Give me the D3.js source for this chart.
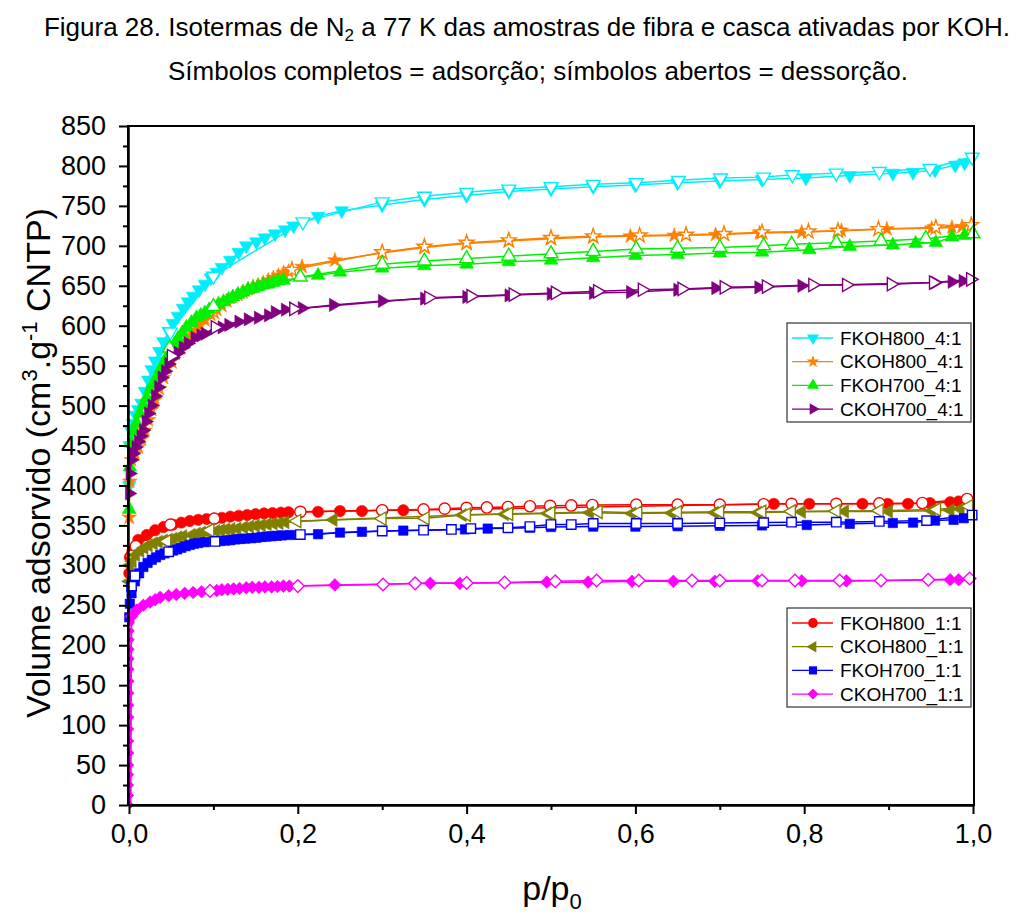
<html>
<head>
  <script src="https://d3js.org/d3.v7.min.js"></script>
  <style>
    body { margin: 0; background: #fff; }
    text { font-family: "Liberation Sans", Arial, sans-serif; fill: #000; }
  </style>
</head>
<body>
<script>
    // ---- data (p/p0, volume adsorbed) ----
    // FKOH800_4:1
    var fkoh800_41_adsP = [0.0003,0.001,0.003,0.005,0.008,0.011,0.015,0.019,0.023,0.027,0.031,0.036,0.041,0.047,0.052,0.058,0.064,0.070,0.076,0.083,0.090,0.097,0.104,0.110,0.120,0.130,0.139,0.151,0.161,0.173,0.185,0.195,0.224,0.252,0.30,0.35,0.40,0.45,0.50,0.55,0.60,0.65,0.70,0.75,0.802,0.854,0.905,0.929,0.955,0.979,0.99];
    var fkoh800_41_adsV = [400,450,468,478,488,495,503,518,532,545,556,568,580,593,603,612,622,630,637,645,652,660,667,673,682,692,700,705,710,715,720,725,737,744,751,758,763,768,771,774,776,779,781,783,785,788,791,792,795,801,804];
    var fkoh800_41_desP = [0.999,0.949,0.889,0.838,0.786,0.752,0.701,0.651,0.601,0.55,0.50,0.45,0.40,0.35,0.30,0.206,0.10,0.049];
    var fkoh800_41_desV = [811,797,793,791,789,786,785,782,779,777,774,771,767,762,755,730,662,592];
    // CKOH800_4:1
    var ckoh800_41_adsP = [0.0003,0.001,0.003,0.007,0.011,0.015,0.019,0.023,0.027,0.031,0.036,0.041,0.045,0.050,0.055,0.061,0.066,0.072,0.078,0.084,0.090,0.097,0.104,0.110,0.116,0.123,0.129,0.135,0.141,0.147,0.153,0.159,0.165,0.171,0.177,0.183,0.189,0.205,0.244,0.30,0.35,0.40,0.45,0.50,0.55,0.594,0.646,0.695,0.747,0.797,0.844,0.898,0.951,0.975,0.987];
    var ckoh800_41_adsV = [360,405,432,440,448,458,469,482,495,507,521,535,547,557,565,572,579,587,594,601,607,614,620,625,631,636,639,642,646,649,651,654,657,660,663,666,668,674,682,691,698,703,706,709,711,712,713,714,716,717,719,721,722,723,724];
    var ckoh800_41_desP = [0.998,0.956,0.888,0.84,0.805,0.75,0.705,0.66,0.605,0.55,0.50,0.45,0.40,0.35,0.30,0.193,0.10,0.05];
    var ckoh800_41_desV = [726,723,721,719,718,717,715,714,713,712,710,707,704,699,692,670,618,556];
    // FKOH700_4:1
    var fkoh700_41_adsP = [0.0003,0.001,0.003,0.006,0.009,0.013,0.017,0.021,0.025,0.029,0.033,0.037,0.041,0.045,0.050,0.054,0.058,0.063,0.068,0.074,0.080,0.085,0.090,0.095,0.106,0.112,0.118,0.123,0.129,0.135,0.141,0.147,0.153,0.159,0.165,0.171,0.177,0.183,0.224,0.25,0.30,0.35,0.40,0.45,0.50,0.55,0.60,0.65,0.70,0.75,0.806,0.854,0.905,0.932,0.956,0.975,0.99];
    var fkoh700_41_adsV = [370,423,453,468,478,490,500,510,520,528,536,545,553,561,570,577,584,591,598,604,610,613,616,620,627,630,633,636,639,642,645,647,649,651,652,654,656,657,663,667,672,675,677,680,682,685,688,689,691,692,695,699,701,703,704,711,713];
    var fkoh700_41_desP = [1.0,0.944,0.891,0.838,0.785,0.752,0.70,0.65,0.601,0.55,0.50,0.45,0.40,0.35,0.30,0.203,0.10,0.048];
    var fkoh700_41_desV = [715,709,706,704,702,700,698,697,696,693,690,687,684,681,677,661,624,572];
    // CKOH700_4:1
    var ckoh700_41_adsP = [0.0003,0.001,0.003,0.005,0.008,0.011,0.014,0.017,0.020,0.023,0.027,0.031,0.035,0.039,0.043,0.047,0.052,0.058,0.064,0.070,0.078,0.085,0.090,0.110,0.118,0.130,0.141,0.153,0.165,0.173,0.185,0.205,0.242,0.30,0.35,0.40,0.45,0.50,0.55,0.594,0.65,0.695,0.746,0.797,0.955,0.975,0.988];
    var ckoh700_41_adsV = [390,415,432,440,448,455,462,469,480,490,500,512,523,535,543,552,560,566,573,578,585,588,590,598,601,605,608,610,613,617,620,622,626,631,634,636,638,640,641,642,645,647,648,650,654,655,656];
    var ckoh700_41_desP = [0.997,0.953,0.903,0.850,0.81,0.755,0.705,0.655,0.608,0.555,0.505,0.455,0.405,0.355,0.195,0.102,0.05];
    var ckoh700_41_desV = [658,654,652,651,651,649,648,646,645,643,641,639,637,635,621,598,562];
    // FKOH800_1:1
    var fkoh800_11_adsP = [0.0003,0.001,0.004,0.011,0.021,0.031,0.041,0.052,0.062,0.072,0.082,0.092,0.110,0.120,0.130,0.140,0.150,0.160,0.170,0.180,0.189,0.224,0.25,0.276,0.30,0.325,0.764,0.806,0.869,0.899,0.923,0.949,0.973,0.983];
    var fkoh800_11_adsV = [290,310,318,332,338,344,348,351,353.5,355.5,357,358,359.5,361,362,363,364,365,365.5,366,366.5,367,368,368,369,369,377,377,377,377,377,378,379,380];
    var fkoh800_11_desP = [0.993,0.94,0.889,0.838,0.785,0.752,0.70,0.65,0.601,0.549,0.524,0.499,0.475,0.449,0.424,0.40,0.374,0.349,0.30,0.203,0.101,0.049,0.008,0.003];
    var fkoh800_11_desV = [383,378,377.5,377,377,376.5,376,376,376,375.5,375,374.5,374,373,372.5,372,371,370,369,367,358.5,351,324,312];
    // CKOH800_1:1
    var ckoh800_11_adsP = [0.0003,0.001,0.004,0.008,0.013,0.018,0.023,0.029,0.035,0.041,0.047,0.052,0.058,0.064,0.074,0.080,0.086,0.092,0.103,0.109,0.115,0.121,0.128,0.136,0.143,0.150,0.157,0.164,0.171,0.178,0.185,0.242,0.395,0.445,0.496,0.546,0.596,0.643,0.694,0.745,0.797,0.848,0.90,0.951,0.973,0.985];
    var ckoh800_11_adsV = [280,300,305,313,318,322,325,327.5,329.5,331,332,333,335,336.5,338,339.5,341,342,343,344,345,345.5,346,347.5,348.5,349.5,350.5,351.5,352.5,353,354,357,363,364,365,366,365,365.5,366,366,367,367.5,367.5,368.5,369,370.5];
    var ckoh800_11_desP = [0.995,0.957,0.889,0.838,0.785,0.75,0.70,0.65,0.603,0.556,0.50,0.45,0.40,0.351,0.30,0.199,0.096,0.045];
    var ckoh800_11_desV = [374,370,368.5,368,367.5,367,367,366.5,366,367,365.5,364.5,363.5,359,358.5,355.5,344,330];
    // FKOH700_1:1
    var fkoh700_11_adsP = [0.0003,0.001,0.003,0.007,0.012,0.017,0.022,0.027,0.032,0.037,0.042,0.052,0.057,0.062,0.067,0.072,0.077,0.082,0.090,0.108,0.114,0.120,0.126,0.132,0.138,0.145,0.151,0.157,0.163,0.169,0.175,0.181,0.191,0.224,0.25,0.276,0.325,0.398,0.425,0.475,0.50,0.55,0.60,0.65,0.70,0.75,0.803,0.854,0.905,0.929,0.955,0.977,0.989];
    var fkoh700_11_adsV = [235,252,265,280,290,298,303,307,310,313,315,318.5,320,322,324,325.5,327,328,329,330.5,331,331.5,332.5,333,333.5,334,334.6,335.5,336,336.5,337,337.5,338,339,341,342,343.5,345,346,347,348,348.5,348.5,349,349.5,350,350.5,352,353,353.5,356,357,359];
    var fkoh700_11_desP = [0.999,0.945,0.889,0.838,0.785,0.752,0.70,0.65,0.601,0.55,0.524,0.50,0.475,0.449,0.405,0.382,0.349,0.30,0.203,0.102,0.047,0.007,0.003];
    var fkoh700_11_desV = [363,356,355,354,354,353.5,353,352.5,352.5,352.5,351,351,348.5,347,346,345,344,343,338.5,330,317,287,274];
    // CKOH700_1:1 (the near-vertical rise at very low p, then the isotherm)
    var ckoh700_11_riseP = [0.0018,0.0019,0.0019,0.002,0.002,0.0021,0.0021,0.0022,0.0022,0.0023,0.0023,0.0024,0.0024,0.0025,0.0025,0.0026,0.0027,0.0028];
    var ckoh700_11_riseV = [0,12,25,38,50,65,80,95,110,125,140,155,170,183,195,207,218,228];
    var ckoh700_11_adsP = [0.003,0.009,0.017,0.025,0.031,0.037,0.047,0.056,0.066,0.076,0.086,0.104,0.110,0.117,0.124,0.131,0.139,0.146,0.154,0.161,0.169,0.176,0.183,0.19,0.244,0.357,0.392,0.495,0.544,0.596,0.645,0.694,0.745,0.797,0.85,0.973,0.983];
    var ckoh700_11_adsV = [236,244,250,254,257,260,262,263.5,265,266,267,268.5,269.5,270,270.5,271,272,272.5,272.5,273,273,273.5,274,274,275.5,277.5,277.5,279,279,280,280,280,280.5,280.5,280.5,282,282];
    var ckoh700_11_desP = [0.996,0.947,0.891,0.842,0.789,0.75,0.70,0.667,0.604,0.554,0.505,0.445,0.40,0.339,0.301,0.2,0.096];
    var ckoh700_11_desV = [283.5,282,281,281,281,281,281,281,281,281,280,278.5,278,277.5,276,274,268];

    var xTicks = [0, 0.2, 0.4, 0.6, 0.8, 1.0];
    var xMinor = [0.1, 0.3, 0.5, 0.7, 0.9];
    var yTicks = d3.range(0, 851, 50);
    var yMinor = d3.range(25, 850, 50);

    function pts(P, V) {
        return P.map(function (p, i) { return {p: p, v: V[i]}; })
            .filter(function (d) { return d.v !== undefined; });
    }

    var group41 = [
        {name: "FKOH800_4:1", color: "#00EEFA", shape: "down",   ads: pts(fkoh800_41_adsP, fkoh800_41_adsV), des: pts(fkoh800_41_desP, fkoh800_41_desV)},
        {name: "CKOH800_4:1", color: "#FF8000", shape: "star",   ads: pts(ckoh800_41_adsP, ckoh800_41_adsV), des: pts(ckoh800_41_desP, ckoh800_41_desV)},
        {name: "FKOH700_4:1", color: "#00F000", shape: "up",     ads: pts(fkoh700_41_adsP, fkoh700_41_adsV), des: pts(fkoh700_41_desP, fkoh700_41_desV)},
        {name: "CKOH700_4:1", color: "#800080", shape: "right",  ads: pts(ckoh700_41_adsP, ckoh700_41_adsV), des: pts(ckoh700_41_desP, ckoh700_41_desV)}
    ];
    var group11 = [
        {name: "FKOH800_1:1", color: "#FF0000", shape: "circle", ads: pts(fkoh800_11_adsP, fkoh800_11_adsV), des: pts(fkoh800_11_desP, fkoh800_11_desV)},
        {name: "CKOH800_1:1", color: "#808000", shape: "left",   ads: pts(ckoh800_11_adsP, ckoh800_11_adsV), des: pts(ckoh800_11_desP, ckoh800_11_desV)},
        {name: "FKOH700_1:1", color: "#0000FF", shape: "square", ads: pts(fkoh700_11_adsP, fkoh700_11_adsV), des: pts(fkoh700_11_desP, fkoh700_11_desV)},
        {name: "CKOH700_1:1", color: "#FF00FF", shape: "diamond", rise: pts(ckoh700_11_riseP, ckoh700_11_riseV), ads: pts(ckoh700_11_adsP, ckoh700_11_adsV), des: pts(ckoh700_11_desP, ckoh700_11_desV)}
    ];

    var width = 1026, height = 916;
    var svg = d3.select("body").append("svg")
        .attr("width", width)
        .attr("height", height);

    var x = d3.scaleLinear().domain([0, 1]).range([129, 973]);
    var y = d3.scaleLinear().domain([0, 850]).range([805, 126]);

    // title
    var t1 = svg.append("text").attr("x", 527).attr("y", 36)
        .attr("text-anchor", "middle").style("font-size", "26px");
    t1.append("tspan").text("Figura 28. Isotermas de N");
    t1.append("tspan").attr("dy", 5).style("font-size", "17px").text("2");
    t1.append("tspan").attr("dy", -5).text(" a 77 K das amostras de fibra e casca ativadas por KOH.");
    svg.append("text").attr("x", 538).attr("y", 80)
        .attr("text-anchor", "middle").style("font-size", "26px")
        .text("Símbolos completos = adsorção; símbolos abertos = dessorção.");

    // symbols
    var symType = {down: d3.symbolTriangle, up: d3.symbolTriangle, right: d3.symbolTriangle, left: d3.symbolTriangle,
        star: d3.symbolStar, circle: d3.symbolCircle, square: d3.symbolSquare, diamond: d3.symbolSquare};
    var symRot = {down: 180, up: 0, right: 90, left: -90, star: 0, circle: 0, square: 0, diamond: 45};
    var symSize = {down: 82, up: 82, right: 76, left: 76, star: 68, circle: 100, square: 88, diamond: 80};

    function drawMarkers(g, s, data, open, scale) {
        var path = d3.symbol(symType[s.shape], symSize[s.shape] * (scale || 1))();
        g.selectAll(null)
            .data(data)
            .enter()
            .append("path")
            .attr("d", path)
            .attr("transform", function (d) {
                return "translate(" + x(d.p) + "," + y(d.v) + ") rotate(" + symRot[s.shape] + ")";
            })
            .attr("fill", open ? "#fff" : s.color)
            .attr("stroke", s.color)
            .attr("stroke-width", open ? 1.4 : 0.6);
    }

    var line = d3.line()
        .x(function (d) { return x(d.p); })
        .y(function (d) { return y(d.v); });

    var plot = svg.append("g");
    group41.concat(group11).forEach(function (s) {
        var g = plot.append("g");
        if (s.rise) {
            g.append("path").datum(s.rise.concat([s.ads[0]]))
                .attr("d", line).attr("fill", "none")
                .attr("stroke", s.color).attr("stroke-width", 2);
            drawMarkers(g, s, s.rise, false, 0.25);
        }
        g.append("path").datum(s.ads)
            .attr("d", line).attr("fill", "none")
            .attr("stroke", s.color).attr("stroke-width", 1.5);
        drawMarkers(g, s, s.ads, false);
        g.append("path").datum(s.des)
            .attr("d", line).attr("fill", "none")
            .attr("stroke", s.color).attr("stroke-width", 1.5);
        drawMarkers(g, s, s.des, true);
    });

    // frame
    svg.append("rect")
        .attr("x", 128).attr("y", 126)
        .attr("width", 846).attr("height", 679)
        .attr("fill", "none").attr("stroke", "#000").attr("stroke-width", 2);

    // axes
    var fmtX = function (d) { return d3.format(".1f")(d).replace(".", ","); };
    var xAxis = svg.append("g").attr("transform", "translate(0,805)")
        .call(d3.axisBottom(x).tickValues(xTicks).tickFormat(fmtX).tickSize(9).tickSizeOuter(0).tickPadding(10));
    var xAxisMinor = svg.append("g").attr("transform", "translate(0,805)")
        .call(d3.axisBottom(x).tickValues(xMinor).tickFormat("").tickSize(5).tickSizeOuter(0));
    var yAxis = svg.append("g").attr("transform", "translate(128,0)")
        .call(d3.axisLeft(y).tickValues(yTicks).tickSize(9).tickSizeOuter(0).tickPadding(13));
    var yAxisMinor = svg.append("g").attr("transform", "translate(128,0)")
        .call(d3.axisLeft(y).tickValues(yMinor).tickFormat("").tickSize(5).tickSizeOuter(0));
    [xAxis, xAxisMinor, yAxis, yAxisMinor].forEach(function (a) {
        a.select(".domain").attr("stroke-width", 2);
        a.selectAll(".tick line").attr("stroke-width", 2);
        a.selectAll("text").style("font-size", "27px").attr("fill", "#000")
            .style("font-family", "'Liberation Sans', Arial, sans-serif");
    });

    // axis titles
    var yl = svg.append("text")
        .attr("transform", "translate(50,463) rotate(-90)")
        .attr("text-anchor", "middle").style("font-size", "34px");
    yl.append("tspan").text("Volume adsorvido (cm");
    yl.append("tspan").attr("dy", -13).style("font-size", "22px").text("3");
    yl.append("tspan").attr("dy", 13).text(".g");
    yl.append("tspan").attr("dy", -13).style("font-size", "22px").text("-1");
    yl.append("tspan").attr("dy", 13).text(" CNTP)");

    var xl = svg.append("text").attr("x", 552).attr("y", 900)
        .attr("text-anchor", "middle").style("font-size", "34px");
    xl.append("tspan").text("p/p");
    xl.append("tspan").attr("dy", 9).style("font-size", "22px").text("0");

    // legends
    function drawLegend(list, top) {
        var lg = svg.append("g");
        lg.append("rect")
            .attr("x", 787).attr("y", top)
            .attr("width", 184).attr("height", 99)
            .attr("fill", "#fff").attr("stroke", "#333").attr("stroke-width", 1.2);
        list.forEach(function (s, i) {
            var cy = top + 15 + i * 23.7;
            lg.append("line")
                .attr("x1", 792).attr("x2", 833).attr("y1", cy).attr("y2", cy)
                .attr("stroke", s.color).attr("stroke-width", 1.3);
            var path = d3.symbol(symType[s.shape], symSize[s.shape] * 0.75)();
            lg.append("path").attr("d", path)
                .attr("transform", "translate(813," + cy + ") rotate(" + symRot[s.shape] + ")")
                .attr("fill", s.color);
            lg.append("text").attr("x", 840).attr("y", cy)
                .attr("dy", "0.35em").style("font-size", "19px").text(s.name);
        });
    }
    drawLegend(group41, 323);
    drawLegend(group11, 608);
</script>
</body>
</html>
